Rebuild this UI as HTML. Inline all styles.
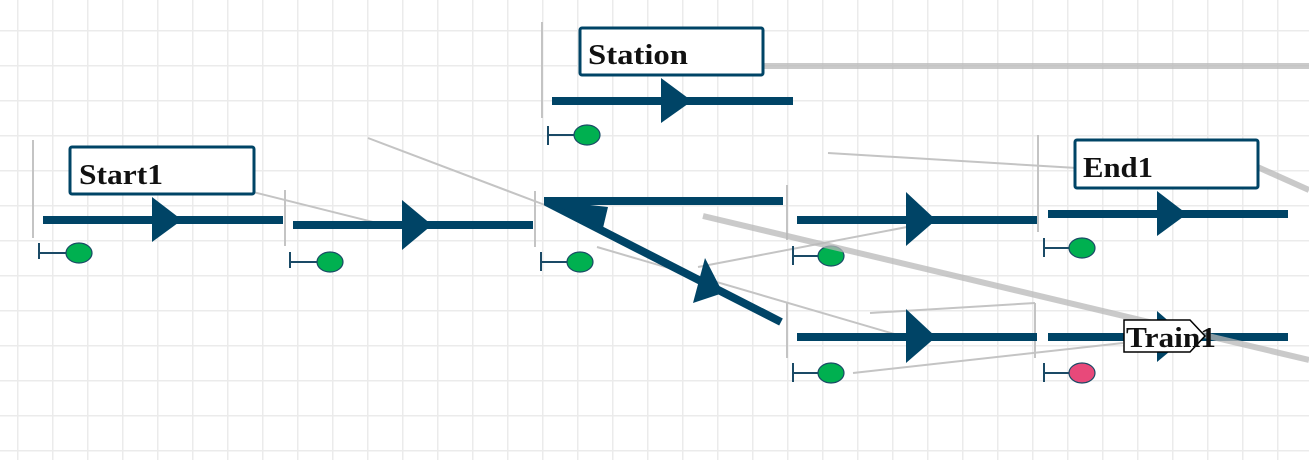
<!DOCTYPE html>
<html><head><meta charset="utf-8"><style>
html,body{margin:0;padding:0;background:#fff;}
svg{display:block;}
text{font-family:"Liberation Serif",serif;font-weight:bold;}
</style></head><body>
<svg width="1309" height="460" xmlns="http://www.w3.org/2000/svg">
<defs>
<pattern id="g" x="17" y="30" width="35" height="35" patternUnits="userSpaceOnUse">
<path d="M0 0V35M0 0H35" stroke="#ebebeb" stroke-width="3" fill="none"/>
</pattern>
</defs>
<rect width="1309" height="460" fill="#fff"/>
<rect width="1309" height="460" fill="url(#g)"/>

<g stroke="#c4c4c4" stroke-width="2">
<line x1="33" y1="140" x2="33" y2="238"/>
<line x1="285" y1="190" x2="285" y2="246"/>
<line x1="542" y1="22" x2="542" y2="118"/>
<line x1="535" y1="191" x2="535" y2="247"/>
<line x1="787" y1="185" x2="787" y2="240"/>
<line x1="787" y1="302" x2="787" y2="358"/>
<line x1="1038" y1="135" x2="1038" y2="232"/>
<line x1="1035" y1="303" x2="1035" y2="358"/>
</g>

<g stroke="#c4c4c4" stroke-width="2" fill="none">
<line x1="97" y1="153" x2="393" y2="227"/>
<line x1="368" y1="138" x2="545" y2="205"/>
<line x1="597" y1="247" x2="925" y2="343"/>
<line x1="698" y1="267" x2="907" y2="227"/>
<line x1="828" y1="153" x2="1077" y2="168"/>
<polyline points="870,313 1035,303"/>
<line x1="853" y1="373" x2="1123" y2="343"/>
</g>

<g stroke="#004466" stroke-width="8" fill="none">
<line x1="43" y1="220" x2="283" y2="220"/>
<line x1="293" y1="225" x2="533" y2="225"/>
<line x1="552" y1="101" x2="793" y2="101"/>
<line x1="544" y1="201" x2="783" y2="201"/>
<line x1="546" y1="202" x2="781" y2="322"/>
<line x1="797" y1="220" x2="1037" y2="220"/>
<line x1="797" y1="337" x2="1037" y2="337"/>
<line x1="1048" y1="214" x2="1288" y2="214"/>
<line x1="1048" y1="337" x2="1288" y2="337"/>
</g>
<g fill="#004466">
<polygon points="152,197 182,220 152,242"/>
<polygon points="402,200 432,225 402,250"/>
<polygon points="661,78 692,101 661,123"/>
<polygon points="545,200 608,207 603,228"/>
<polygon points="705,258 693,303 723,293"/>
<polygon points="906,192 936,220 906,246"/>
<polygon points="906,309 936,337 906,363"/>
<polygon points="1157,191 1187,214 1157,236"/>
<polygon points="1157,311 1187,337 1157,362"/>
</g>

<g stroke="#1a4a66" stroke-width="2">
<path d="M39 243V259M39 253H66"/>
<path d="M290 252V268M290 262H317"/>
<path d="M548 126V145M548 135H574"/>
<path d="M541 252V271M541 262H567"/>
<path d="M793 246V265M793 256H818"/>
<path d="M793 363V382M793 373H818"/>
<path d="M1044 238V257M1044 248H1069"/>
<path d="M1044 363V382M1044 373H1069"/>
</g>
<g stroke="#1a4a66" stroke-width="1.2">
<ellipse cx="79" cy="253" rx="13" ry="10" fill="#00b050"/>
<ellipse cx="330" cy="262" rx="13" ry="10" fill="#00b050"/>
<ellipse cx="587" cy="135" rx="13" ry="10" fill="#00b050"/>
<ellipse cx="580" cy="262" rx="13" ry="10" fill="#00b050"/>
<ellipse cx="831" cy="256" rx="13" ry="10" fill="#00b050"/>
<ellipse cx="831" cy="373" rx="13" ry="10" fill="#00b050"/>
<ellipse cx="1082" cy="248" rx="13" ry="10" fill="#00b050"/>
<ellipse cx="1082" cy="373" rx="13" ry="10" fill="#e8497a"/>
</g>

<g stroke="#b8b8b8" stroke-width="6" opacity="0.75" fill="none">
<line x1="763" y1="66" x2="1309" y2="66"/>
<line x1="703" y1="216" x2="1309" y2="360"/>
<line x1="1253" y1="165" x2="1309" y2="190"/>
</g>

<g fill="#fff" stroke="#004466" stroke-width="3">
<rect x="70" y="147" width="184" height="47" rx="2"/>
<rect x="580" y="28" width="183" height="47" rx="2"/>
<rect x="1075" y="140" width="183" height="48" rx="2"/>
</g>
<text x="79" y="184" font-size="28" fill="#111" textLength="84" lengthAdjust="spacingAndGlyphs">Start1</text>
<text x="588" y="64" font-size="28" fill="#111" textLength="100" lengthAdjust="spacingAndGlyphs">Station</text>
<text x="1083" y="177" font-size="28" fill="#111" textLength="70" lengthAdjust="spacingAndGlyphs">End1</text>

<polygon points="1124,320 1190,320 1205,336 1190,352 1124,352" fill="#fff" stroke="#000" stroke-width="1.5"/>
<text x="1126" y="347" font-size="28" fill="#111" textLength="90" lengthAdjust="spacingAndGlyphs">Train1</text>
</svg>
</body></html>
